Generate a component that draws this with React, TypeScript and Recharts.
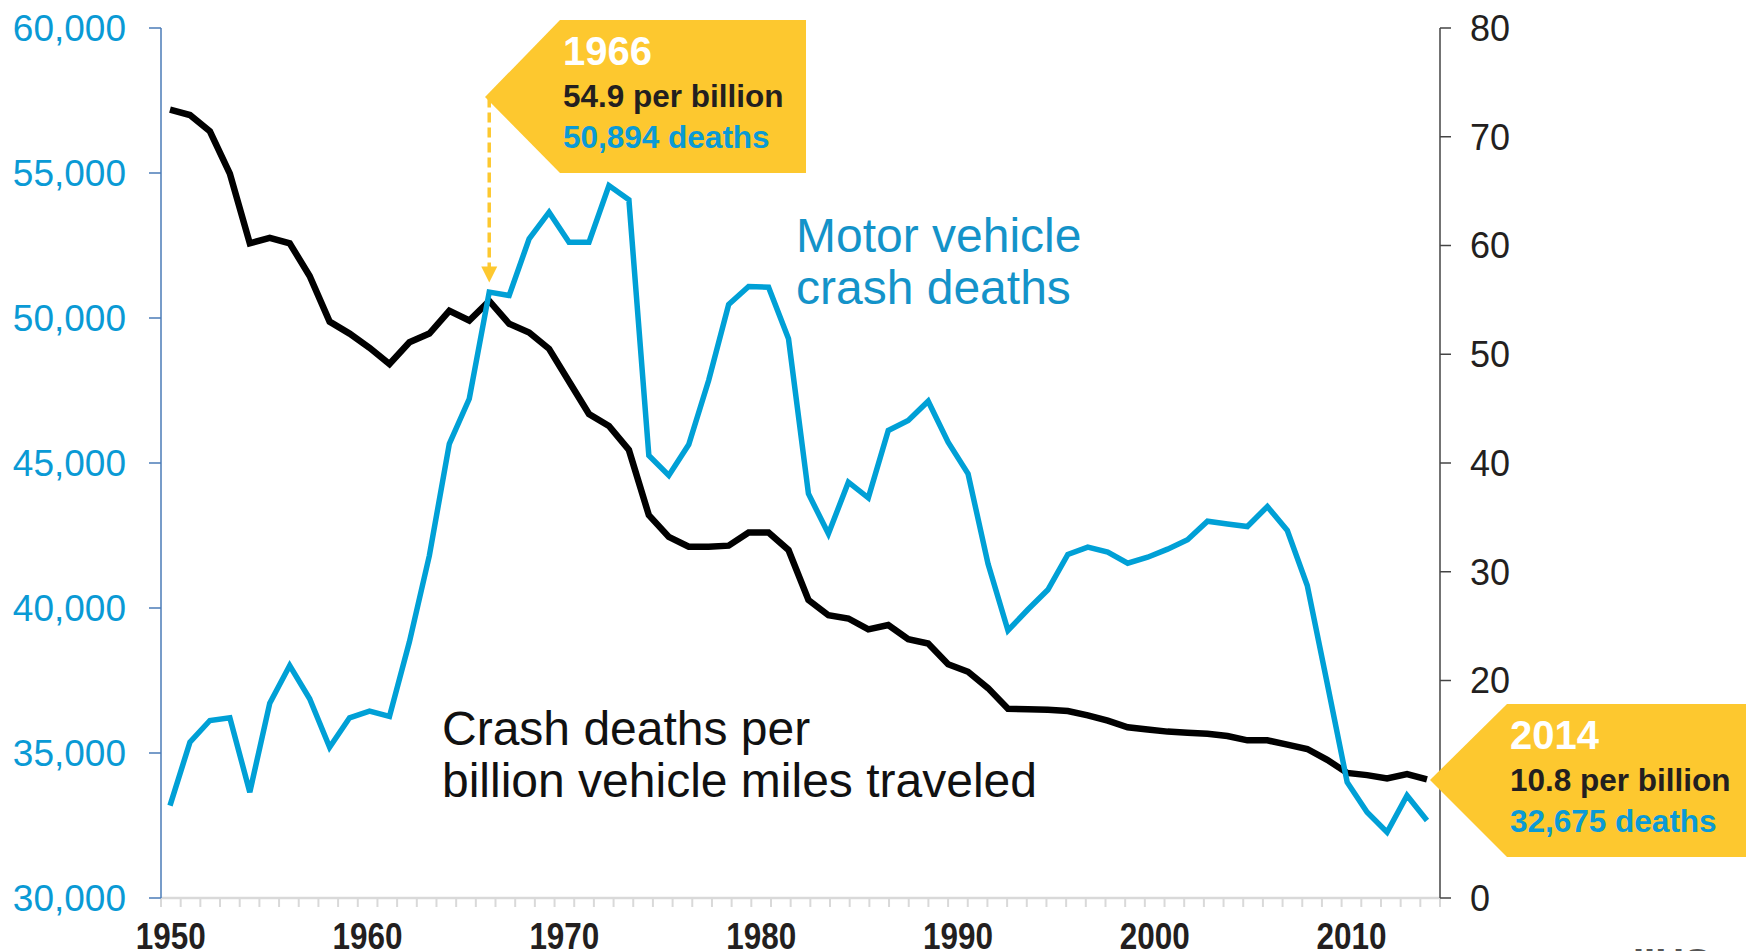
import React from "react";
import { LineChart, Line, XAxis, YAxis, ReferenceLine } from "recharts";

// Values, one per plotted point (first point 1950).
const DEATHS = [
  33186, 35372, 36121, 36214, 33648, 36717, 38017, 36869, 35200, 36214,
  36441, 36259, 38834, 41810, 45662, 47214, 50894, 50776, 52731, 53648,
  52614, 52614, 54569, 54076, 45259, 44569, 45638, 47855, 50466, 51086,
  51062, 49283, 43938, 42559, 44338, 43800, 46121, 46466, 47131, 45717,
  44628, 41524, 39224, 39948, 40628, 41845, 42097, 41924, 41545, 41750,
  42030, 42352, 42993, 42900, 42810, 43500, 42672, 40776, 37400, 33993,
  32959, 32269, 33534, 32675,
];

const RATE = [
  72.5, 72.0, 70.5, 66.6, 60.2, 60.7, 60.2, 57.2, 53.0, 51.9,
  50.6, 49.1, 51.1, 51.9, 54.0, 53.1, 54.9, 52.8, 52.0, 50.5,
  47.5, 44.5, 43.4, 41.2, 35.2, 33.2, 32.3, 32.3, 32.4, 33.6,
  33.6, 32.0, 27.4, 26.0, 25.7, 24.7, 25.1, 23.8, 23.4, 21.5,
  20.8, 19.3, 17.4, 17.35, 17.3, 17.2, 16.8, 16.3, 15.7, 15.5,
  15.3, 15.2, 15.1, 14.9, 14.5, 14.5, 14.1, 13.7, 12.7, 11.5,
  11.3, 11.0, 11.4, 10.9,
];

const YEARS = DEATHS.map((_, i) => 1950 + i);

const LEFT_TICKS = [30000, 35000, 40000, 45000, 50000, 55000, 60000];
const RIGHT_TICKS = [0, 10, 20, 30, 40, 50, 60, 70, 80];
const YEAR_LABELS = [1950, 1960, 1970, 1980, 1990, 2000, 2010];

// axis tick marks sit between years (1949.5 ... 2014.5)
const YEAR_SLOTS: number[] = [];
for (let i = 0; i <= 65; i++) YEAR_SLOTS.push(1949.5 + i);

const rows = YEARS.map((year, i) => ({ year, deaths: DEATHS[i], rate: RATE[i] }));

const FONT = '"Liberation Sans", Arial, Helvetica, sans-serif';
const BLUE = "#00a0d6";
const LABEL_BLUE = "#0a9ad5";
const YELLOW = "#fdc82f";
const DARK = "#231f20";

const W = 1746;
const H = 951;
const PLOT_W = 1279;
const BAND = PLOT_W / 65;

function YearTick(props: any) {
  const { x, y, payload } = props;
  const year = payload.value + 0.5;
  return (
    <g>
      <line x1={x} y1={y + 1} x2={x} y2={y + 9} stroke="#d9d9d9" strokeWidth={2} />
      {YEAR_LABELS.includes(year) && (
        <text
          x={x + BAND / 2}
          y={y + 51}
          textAnchor="middle"
          fontFamily={FONT}
          fontWeight="bold"
          fontSize={37}
          fill={DARK}
          textLength={70}
          lengthAdjust="spacingAndGlyphs"
        >
          {year}
        </text>
      )}
    </g>
  );
}

function DashedArrow(p: any) {
  return (
    <g>
      <line
        x1={p.x1}
        y1={p.y1}
        x2={p.x2}
        y2={p.y2 - 14}
        stroke={YELLOW}
        strokeWidth={3.5}
        strokeDasharray="10 5"
      />
      <polygon
        points={`${p.x2 - 8},${p.y2 - 16} ${p.x2 + 8},${p.y2 - 16} ${p.x2},${p.y2}`}
        fill={YELLOW}
      />
    </g>
  );
}

function Callout({ tipX, tipY, left, top, right, bottom, year, rate, deaths }: any) {
  const tx = left + 3;
  return (
    <g fontFamily={FONT} fontWeight="bold">
      <polygon
        points={`${tipX},${tipY} ${left},${top} ${right},${top} ${right},${bottom} ${left},${bottom}`}
        fill={YELLOW}
      />
      <text x={tx} y={top + 45} fontSize={40} fill="#ffffff">{year}</text>
      <text x={tx} y={top + 87} fontSize={31.5} fill={DARK}>{rate}</text>
      <text x={tx} y={top + 128} fontSize={31.5} fill={LABEL_BLUE}>{deaths}</text>
    </g>
  );
}

export default function App() {
  return (
    <div style={{ position: "absolute", left: 0, top: 0, width: W, height: H, background: "#fff" }}>
      <LineChart
        width={W}
        height={H}
        data={rows}
        margin={{ top: 28, right: 0, bottom: 0, left: 0 }}
        style={{ position: "absolute", left: 0, top: 0 }}
      >
        <XAxis
          xAxisId="data"
          dataKey="year"
          type="number"
          domain={[1949.549, 2013.653]}
          allowDataOverflow
          height={0}
          hide
        />
        <XAxis
          xAxisId="years"
          dataKey="year"
          type="number"
          domain={[1949.5, 2014.5]}
          allowDataOverflow
          ticks={YEAR_SLOTS}
          interval={0}
          height={53}
          tickSize={0}
          tickMargin={0}
          tickLine={false}
          axisLine={{ stroke: "#d9d9d9", strokeWidth: 2.5 }}
          tick={YearTick}
        />
        <YAxis
          yAxisId="left"
          orientation="left"
          width={161}
          domain={[30000, 60000]}
          allowDataOverflow
          ticks={LEFT_TICKS}
          interval={0}
          tickFormatter={(v: number) => v.toLocaleString("en-US")}
          tick={{ fill: LABEL_BLUE, fontSize: 37, fontFamily: FONT }}
          tickSize={12}
          tickMargin={23}
          axisLine={{ stroke: "#4a7bb7", strokeWidth: 1.5 }}
          tickLine={{ stroke: "#4a7bb7", strokeWidth: 1.5 }}
        />
        <YAxis
          yAxisId="right"
          orientation="right"
          width={306}
          domain={[0, 80]}
          allowDataOverflow
          ticks={RIGHT_TICKS}
          interval={0}
          tick={{ fill: DARK, fontSize: 36, fontFamily: FONT }}
          tickSize={11}
          tickMargin={19}
          axisLine={{ stroke: "#444", strokeWidth: 1.5 }}
          tickLine={{ stroke: "#444", strokeWidth: 1.5 }}
        />
        <ReferenceLine
          xAxisId="data"
          yAxisId="left"
          segment={[
            { x: 1966, y: 57600 },
            { x: 1966, y: 51224 },
          ]}
          shape={DashedArrow}
        />
        <Line
          xAxisId="data"
          yAxisId="right"
          type="linear"
          dataKey="rate"
          stroke="#000000"
          strokeWidth={6.5}
          dot={false}
          activeDot={false}
          isAnimationActive={false}
        />
        <Line
          xAxisId="data"
          yAxisId="left"
          type="linear"
          dataKey="deaths"
          stroke={BLUE}
          strokeWidth={5.5}
          dot={false}
          activeDot={false}
          isAnimationActive={false}
        />
      </LineChart>
      <svg
        width={W}
        height={H}
        style={{ position: "absolute", left: 0, top: 0, pointerEvents: "none", overflow: "hidden" }}
      >
        <Callout
          tipX={485}
          tipY={97}
          left={560}
          top={20}
          right={806}
          bottom={173}
          year="1966"
          rate="54.9 per billion"
          deaths="50,894 deaths"
        />
        <Callout
          tipX={1430}
          tipY={780}
          left={1507}
          top={704}
          right={W}
          bottom={857}
          year="2014"
          rate="10.8 per billion"
          deaths="32,675 deaths"
        />
        <g fontFamily={FONT} fontSize={48}>
          <text x={796} y={252} fill="#1493c9">Motor vehicle</text>
          <text x={796} y={304} fill="#1493c9">crash deaths</text>
          <text x={442} y={745} fill="#111">Crash deaths per</text>
          <text x={442} y={797} fill="#111">billion vehicle miles traveled</text>
        </g>
        <text x={1633} y={977} fontFamily={FONT} fontWeight="bold" fontSize={40} fill="#555">IIHS</text>
      </svg>
    </div>
  );
}
